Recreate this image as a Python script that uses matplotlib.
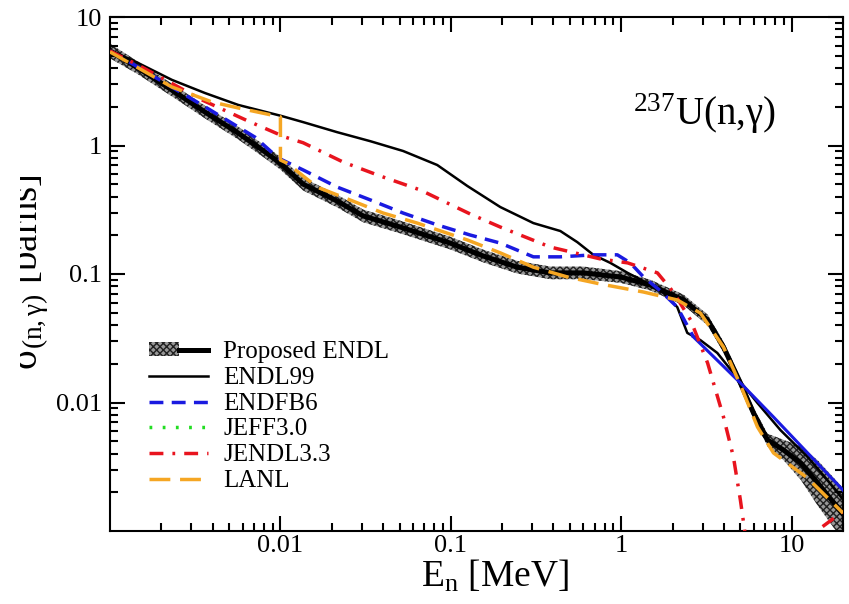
import numpy as np
import matplotlib
matplotlib.use("Agg")
import matplotlib.pyplot as plt
from matplotlib.patches import Patch
from matplotlib.lines import Line2D
from matplotlib.legend_handler import HandlerTuple
from matplotlib.ticker import FixedLocator, FixedFormatter, LogLocator, NullFormatter
from matplotlib.transforms import Bbox, TransformedBbox

plt.rcParams['font.family'] = ['Liberation Serif', 'DejaVu Serif']
plt.rcParams['mathtext.fontset'] = 'custom'
plt.rcParams['mathtext.rm'] = 'Liberation Serif'
plt.rcParams['mathtext.it'] = 'Liberation Serif:italic'
plt.rcParams['hatch.linewidth'] = 1.0

# proposed evaluation (centre line + relative band half width)
prop_e = [0.001, 0.00146, 0.00231, 0.00361, 0.00565, 0.00813, 0.00996, 0.0136, 0.0215, 0.0306,
          0.0505, 0.0991, 0.155, 0.245, 0.384, 0.599, 0.99, 1.48, 2.32, 3.21,
          3.98, 5.00, 5.97, 7.21, 8.95, 11.3, 14.2, 20.0]
prop_xs = [5.44, 4.01, 2.70, 1.82, 1.25, 0.89, 0.73, 0.50, 0.37, 0.283,
           0.232, 0.174, 0.138, 0.113, 0.102, 0.102, 0.0948, 0.082, 0.0628, 0.0439,
           0.0270, 0.0142, 0.00828, 0.00511, 0.00427, 0.00338, 0.00237, 0.00135]
prop_err = [0.14, 0.12, 0.12, 0.12, 0.12, 0.12, 0.12, 0.12, 0.12, 0.12,
            0.12, 0.12, 0.12, 0.12, 0.12, 0.12, 0.11, 0.10, 0.10, 0.10,
            0.10, 0.10, 0.10, 0.12, 0.20, 0.35, 0.50, 0.60]

endl_e = [0.001, 0.00146, 0.00231, 0.00361, 0.00565, 0.0101, 0.0136, 0.0215, 0.0337, 0.0525,
          0.0832, 0.125, 0.195, 0.305, 0.439, 0.552, 0.686, 0.863, 1.09, 1.42,
          1.77, 2.13, 2.44, 2.91, 3.66, 5.00, 6.30, 8.59, 12.4, 16.2, 20.0]
endl_xs = [5.53, 4.39, 3.24, 2.56, 2.07, 1.70, 1.52, 1.27, 1.08, 0.906,
           0.705, 0.484, 0.332, 0.249, 0.216, 0.177, 0.141, 0.122, 0.102, 0.085,
           0.071, 0.0553, 0.0348, 0.0306, 0.0243, 0.0145, 0.0099, 0.0061, 0.00377, 0.00249, 0.00176]

endf_e = [0.001, 0.00146, 0.00361, 0.0071, 0.00969, 0.0136, 0.0215, 0.0337, 0.0525, 0.0832,
          0.130, 0.195, 0.305, 0.439, 0.686, 0.948, 1.13, 1.35, 1.70, 2.13,
          2.65, 5.00, 7.82, 12.4, 20.0]
endf_xs = [5.44, 4.08, 2.00, 1.16, 0.80, 0.645, 0.475, 0.377, 0.298, 0.241,
           0.201, 0.174, 0.136, 0.136, 0.141, 0.141, 0.122, 0.0948, 0.0738, 0.0553,
           0.0324, 0.0142, 0.00771, 0.00405, 0.00208]

jeff_e = []
jeff_xs = []

jendl_e = [0.001, 0.00146, 0.00202, 0.00347, 0.00646, 0.0107, 0.0136, 0.0233, 0.0385, 0.0661,
           0.0953, 0.130, 0.195, 0.384, 0.754, 1.09, 1.63, 2.02, 2.55, 3.21,
           3.98, 4.55, 5.00, 5.81, 20.0]
jendl_xs = [5.44, 4.23, 3.35, 2.26, 1.55, 1.16, 1.05, 0.744, 0.579, 0.451,
            0.357, 0.293, 0.232, 0.162, 0.131, 0.122, 0.102, 0.0724, 0.0439, 0.0203,
            0.00771, 0.00377, 0.00174, 0.00042, 0.00142]

lanl_e = [0.001, 0.00231, 0.00397, 0.00565, 0.0100, 0.0100, 0.0109, 0.0164, 0.0256, 0.0401,
          0.0635, 0.125, 0.195, 0.305, 0.483, 0.754, 1.35, 2.13, 2.91, 3.98,
          5.00, 6.30, 7.82, 12.4, 20.0]
lanl_xs = [5.35, 2.85, 2.18, 1.96, 1.67, 0.771, 0.731, 0.475, 0.377, 0.298,
           0.249, 0.184, 0.146, 0.113, 0.0948, 0.0836, 0.0724, 0.0628, 0.0497, 0.0270,
           0.0137, 0.00645, 0.00405, 0.00258, 0.00138]

tick_vals = [0.01, 0.1, 1, 10]
tick_labs = ['0.01', '0.1', '1', '10']

BLUE = '#1a1ae0'
RED = '#e8141e'
ORANGE = '#f5a623'
GREEN = '#22dd22'

fig = plt.figure(figsize=(8.49, 6.04), dpi=100)
ax = fig.add_axes([110/849, 73/604, 733/849, 514/604])

pe = np.array(prop_e)
px = np.array(prop_xs)
pu = np.array(prop_err)
ax.fill_between(pe, px/(1+pu), px*(1+pu), facecolor='#989898', edgecolor='#202020',
                hatch='xxxxx', linewidth=0, zorder=1)
ax.plot(pe, px, color='k', lw=3.6, zorder=2)

ax.plot(endl_e, endl_xs, color='k', lw=1.8, zorder=3)

ee = np.array(endf_e)
ex = np.array(endf_xs)
m = ee <= 2.65
ax.plot(ee[m], ex[m], color=BLUE, lw=2.5, dashes=(4, 2.4), zorder=4)
ax.plot(ee[ee >= 2.65], ex[ee >= 2.65], color=BLUE, lw=2.2, zorder=4)

ax.plot(jeff_e, jeff_xs, color=GREEN, lw=2.5, dashes=(0.8, 3.0), zorder=4)
ax.plot(jendl_e, jendl_xs, color=RED, lw=2.5, dashes=(4, 2.6, 0.8, 2.6), zorder=5)
ax.plot(lanl_e, lanl_xs, color=ORANGE, lw=2.5, dashes=(6, 2.8), zorder=6)

ax.set_xscale('log')
ax.set_yscale('log')
ax.set_xlim(0.001, 20)
ax.set_ylim(0.001, 10)
for a in (ax.xaxis, ax.yaxis):
    a.set_major_locator(FixedLocator(tick_vals))
    a.set_major_formatter(FixedFormatter(tick_labs))
    a.set_minor_locator(LogLocator(base=10, subs=np.arange(2, 10), numticks=30))
    a.set_minor_formatter(NullFormatter())
ax.tick_params(which='both', direction='in', top=True, right=True, width=1.5, labelsize=19)
ax.tick_params(which='major', length=10.5)
ax.tick_params(which='minor', length=5.5)
ax.tick_params(axis='x', pad=3)
ax.tick_params(axis='y', pad=6)
for s in ax.spines.values():
    s.set_linewidth(1.5)

ax.set_xlabel(r'E$_\mathrm{n}$ [MeV]', fontsize=27)
ax.xaxis.set_label_coords(0.525, -0.053)

# y label is cut at the left edge in the original
yl = fig.text(37/849, 1 - 272/604, r'σ$_{\mathrm{(n,\gamma)}}$ [barns]', fontsize=28,
              rotation=90, rotation_mode='anchor', ha='center', va='baseline')
yl.set_clip_box(TransformedBbox(Bbox([[20/849, 0], [1, 1]]), fig.transFigure))
yl.set_clip_on(True)

ax.text(0.7135, 0.79, r'$^{237}$U(n,γ)', transform=ax.transAxes, fontsize=28,
        ha='left', va='baseline')

h_prop = (Patch(facecolor='#989898', edgecolor='#202020', hatch='xxxxx', lw=0),
          Line2D([], [], color='k', lw=3.6))
handles = [h_prop,
           Line2D([], [], color='k', lw=1.8),
           Line2D([], [], color=BLUE, lw=2.5, dashes=(4, 2.4)),
           Line2D([], [], color=GREEN, lw=2.5, dashes=(0.8, 3.0)),
           Line2D([], [], color=RED, lw=2.5, dashes=(4, 2.6, 0.8, 2.6)),
           Line2D([], [], color=ORANGE, lw=2.5, dashes=(6, 2.8))]
labels = ['Proposed ENDL', 'ENDL99', 'ENDFB6', 'JEFF3.0', 'JENDL3.3', 'LANL']
ax.legend(handles, labels, handler_map={tuple: HandlerTuple(ndivide=None)},
          loc='upper left', bbox_to_anchor=(39/733, 190/514), frameon=False,
          fontsize=18, handlelength=2.36, handletextpad=0.6, labelspacing=0.15,
          handleheight=0.5, borderpad=0, borderaxespad=0)

fig.savefig('out.png', dpi=100)
